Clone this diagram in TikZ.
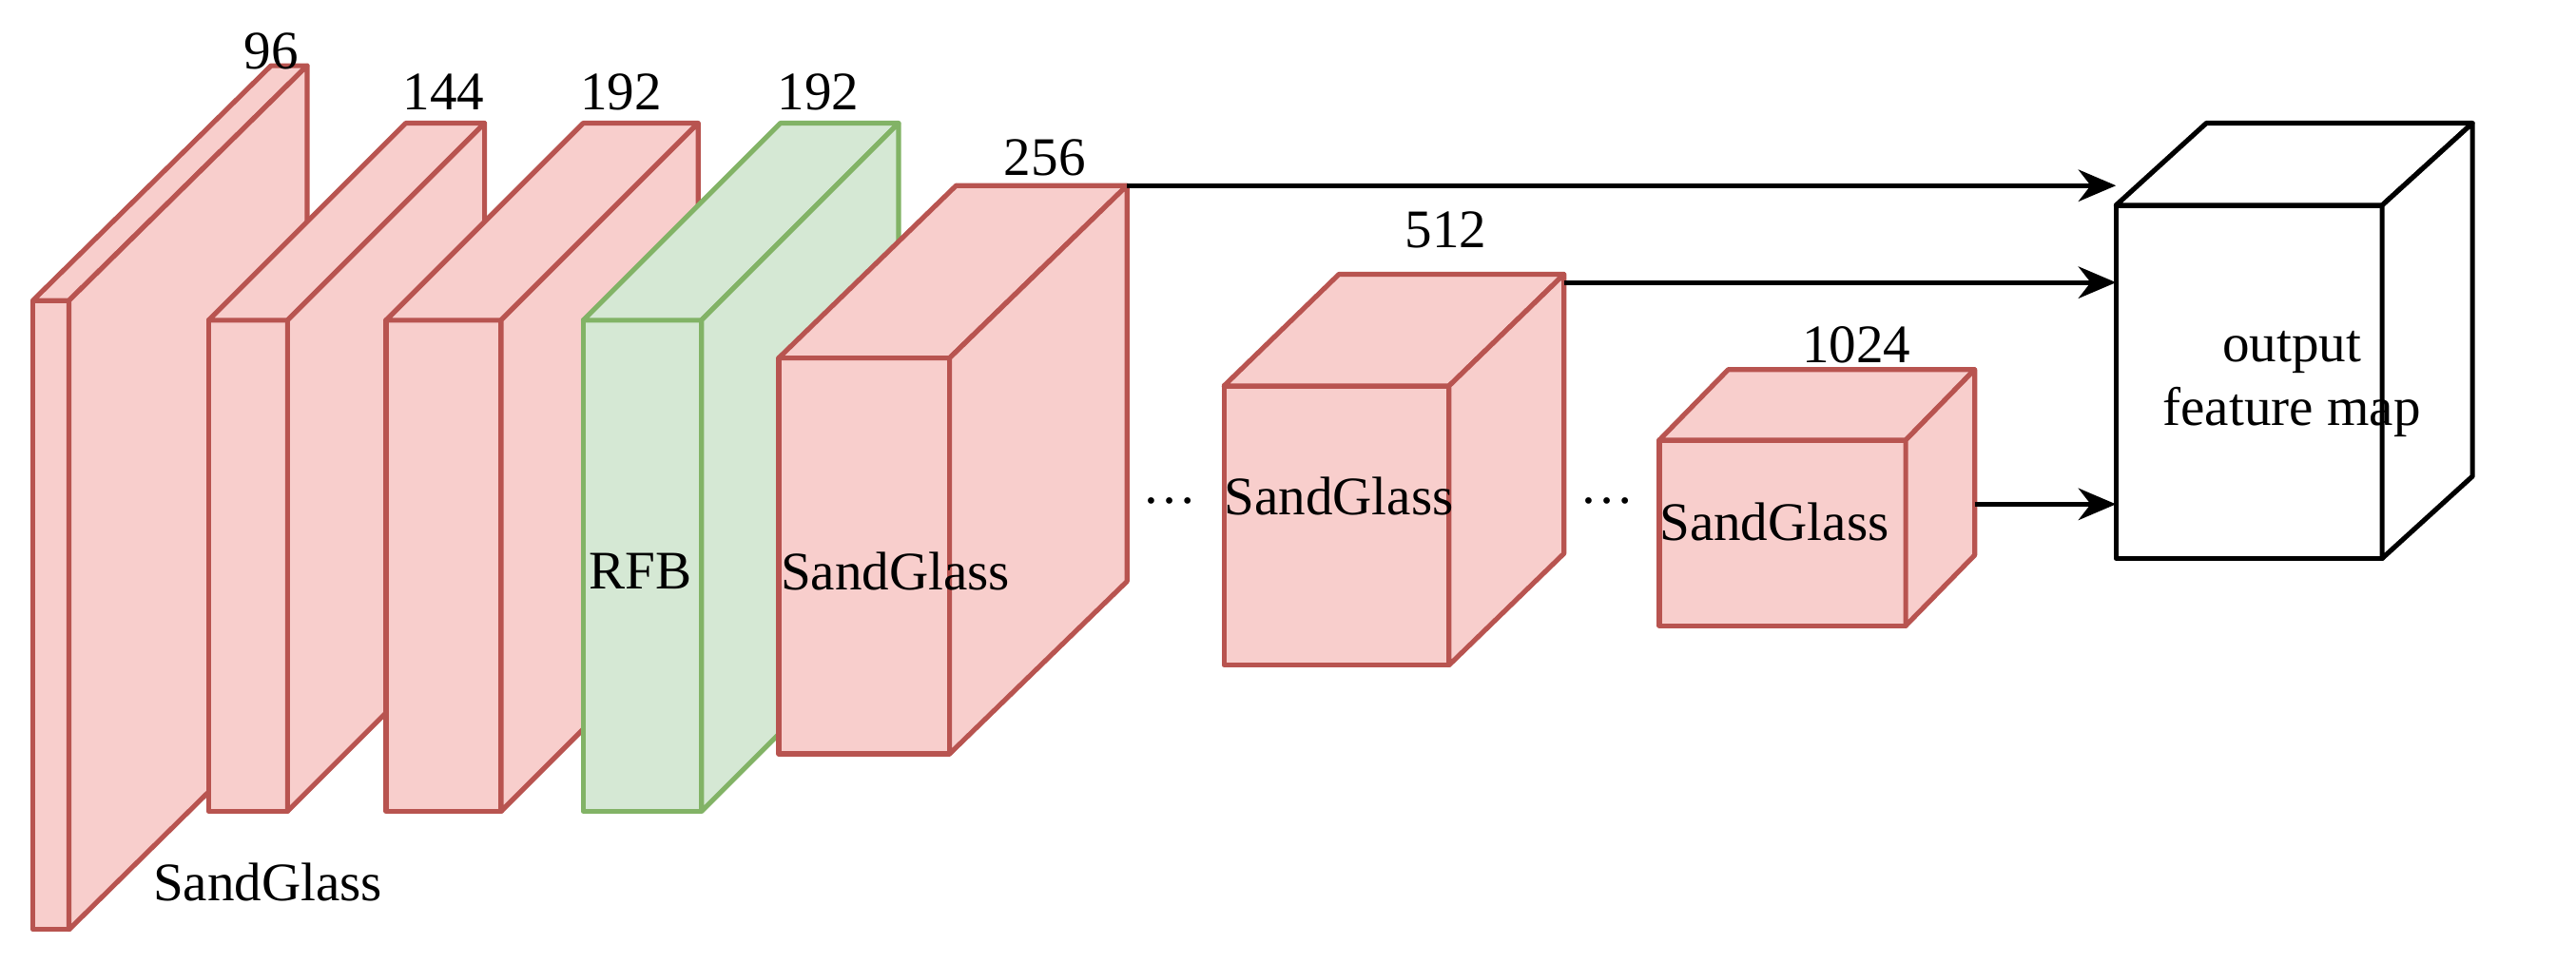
\documentclass[tikz,border=0pt]{standalone}
\usepackage{fontspec}
\setmainfont{Liberation Serif}
\usetikzlibrary{arrows.meta,calc}
\definecolor{rfill}{HTML}{F8CECC}\definecolor{rline}{HTML}{B85450}
\definecolor{gfill}{HTML}{D5E8D4}\definecolor{gline}{HTML}{82B366}
\tikzset{red/.style={fill=rfill,draw=rline,line width=0.85pt,line join=round},
 green/.style={fill=gfill,draw=gline,line width=0.85pt,line join=round},
 white/.style={fill=white,draw=black,line width=0.85pt,line join=round},
 lbl/.style={font=\fontsize{9.4pt}{11pt}\selectfont,inner sep=0pt},
 arr/.style={-{Stealth[length=6.5pt,width=5.5pt]},line width=0.85pt}}
% name, x1, y1, x2, y2, dx, dy, style
\newcommand\mycub[8]{%
 \coordinate (#1-a) at (#2,#3); \coordinate (#1-b) at (#4,#3);
 \coordinate (#1-c) at (#4,#5); \coordinate (#1-d) at (#2,#5);
 \coordinate (#1-ta) at (#2+#6,#3+#7); \coordinate (#1-tb) at (#4+#6,#3+#7);
 \coordinate (#1-tc) at (#4+#6,#5+#7);
 \draw[#8] (#1-a) rectangle (#1-c);
 \draw[#8] (#1-a) -- (#1-ta) -- (#1-tb) -- (#1-b) -- cycle;
 \draw[#8] (#1-b) -- (#1-tb) -- (#1-tc) -- (#1-c) -- cycle;}
\begin{document}
\begin{tikzpicture}[x=0.01cm,y=-0.01cm]
\useasboundingbox (0,0) rectangle (1568,586);
\mycub{b1}{20}{183}{42}{566}{145}{-143}{red}
\mycub{b2}{127}{195}{175}{494}{120}{-120}{red}
\mycub{b3}{235}{195}{305}{494}{120}{-120}{red}
\mycub{b4}{355}{195}{427}{494}{120}{-120}{green}
\mycub{b5}{474}{218}{578}{459}{108}{-105}{red}
\mycub{b6}{745}{235}{882}{405}{70}{-68}{red}
\mycub{b7}{1010}{268}{1160}{381}{42}{-43}{red}
\mycub{out}{1288}{125}{1450}{340}{55}{-50}{white}
\node[lbl] (l1) at (165,31) {96};
\node[lbl] (l2) at (270,56) {144};
\node[lbl] (l3) at (378,56) {192};
\node[lbl] (l4) at (498,56) {192};
\node[lbl] (l5) at (636,96) {256};
\node[lbl] (l6) at (880,140) {512};
\node[lbl] (l7) at (1130,210) {1024};
\node[lbl] (s1) at (163,537) {SandGlass};
\node[lbl] (rfb) at (390,348) {RFB};
\node[lbl] (s5) at (545,348) {SandGlass};
\node[lbl] (s6) at (815,302) {SandGlass};
\node[lbl] (s7) at (1080,318) {SandGlass};
\node[lbl] (d1) at (712,305) {\dots};
\node[lbl] (d2) at (978,305) {\dots};
\node[lbl,align=center] (ot) at (1395,234) {output\\feature map};
\coordinate (e1) at (1288,113);
\coordinate (e2) at (1288,172);
\coordinate (e3) at (1288,307);
\coordinate (s6o) at (952,172);
\coordinate (s7o) at (1202,307);
\draw[arr] (b5-tb) -- (e1);
\draw[arr] (s6o) -- (e2);
\draw[arr] (s7o) -- (e3);
\end{tikzpicture}
\end{document}
